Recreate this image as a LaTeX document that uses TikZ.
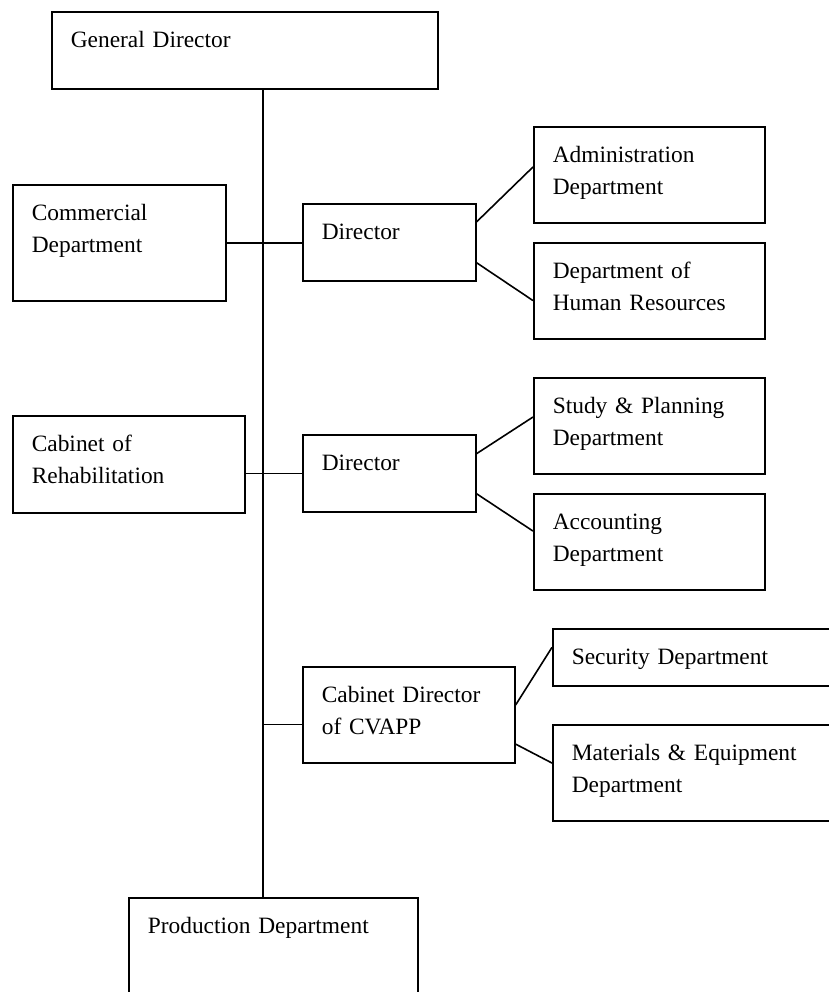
\documentclass[tikz,border=0pt]{standalone}
\usepackage{fontspec}
\setmainfont{Liberation Serif}
\usetikzlibrary{calc}
\usetikzlibrary{positioning}

\tikzset{
  box/.style 2 args={draw, line width=0.8pt, anchor=north west, align=left,
    inner xsep=9.5pt, inner ysep=0pt, text height=17.75pt,
    text width=#1, text depth=#2},
  link/.style={line width=0.8pt}
}

\begin{document}
\begin{tikzpicture}[x=0.5pt,y=-0.5pt,font=\fontsize{11.7pt}{16.25pt}\selectfont]
\useasboundingbox (0,0) rectangle (829,992);

% left column and top
\node[box={174pt}{20.75pt}] (gd) at (51,11) {General Director};
\node[box={87.5pt}{40.25pt}] (com) at (12,184) {Commercial\\Department};
\node[box={97pt}{30.75pt}] (cab) at (12,415) {Cabinet of\\Rehabilitation};
\node[box={125.5pt}{42.25pt}] (prod) at (128,897) {Production Department};

% directors
\node[box={67.5pt}{20.75pt}] (dir1) at (302,203) {Director};
\node[box={67.5pt}{20.75pt}] (dir2) at (302,434) {Director};
\node[box={87pt}{30.25pt}] (cva) at (302,666) {Cabinet Director\\of CVAPP};

% departments
\node[box={96.5pt}{30.25pt}] (adm) at (533,126) {Administration\\Department};
\node[box={96.5pt}{30.25pt}] (hr) at (533,242) {Department of\\Human Resources};
\node[box={96.5pt}{30.25pt}] (stu) at (533,377) {Study \& Planning\\Department};
\node[box={96.5pt}{30.25pt}] (acc) at (533,493) {Accounting\\Department};
\node[box={126pt}{10.75pt}] (sec) at (552,628) {Security Department};
\node[box={126pt}{30.25pt}] (mat) at (552,724) {Materials \& Equipment\\Department};

\coordinate (trunk) at (263,0);
\coordinate (cvl) at ($(cva.north west)!0.6!(cva.south west)$);

% main line
\draw[link] (gd.south -| trunk) -- (trunk |- prod.north);
\draw[link] (com.east) -- (com.east -| dir1.west);
\draw[link] (cab.east |- dir2.west) -- (dir2.west);
\draw[link] (trunk |- cvl) -- (cvl);

% branches
\draw[link] ($(dir1.north east)!0.24!(dir1.south east)$) -- ($(adm.north west)!0.42!(adm.south west)$);
\draw[link] ($(dir1.north east)!0.76!(dir1.south east)$) -- ($(hr.north west)!0.6!(hr.south west)$);
\draw[link] ($(dir2.north east)!0.25!(dir2.south east)$) -- ($(stu.north west)!0.41!(stu.south west)$);
\draw[link] ($(dir2.north east)!0.76!(dir2.south east)$) -- ($(acc.north west)!0.39!(acc.south west)$);
\draw[link] ($(cva.north east)!0.4!(cva.south east)$) -- ($(sec.north west)!0.33!(sec.south west)$);
\draw[link] ($(cva.north east)!0.8!(cva.south east)$) -- ($(mat.north west)!0.4!(mat.south west)$);

\end{tikzpicture}
\end{document}
